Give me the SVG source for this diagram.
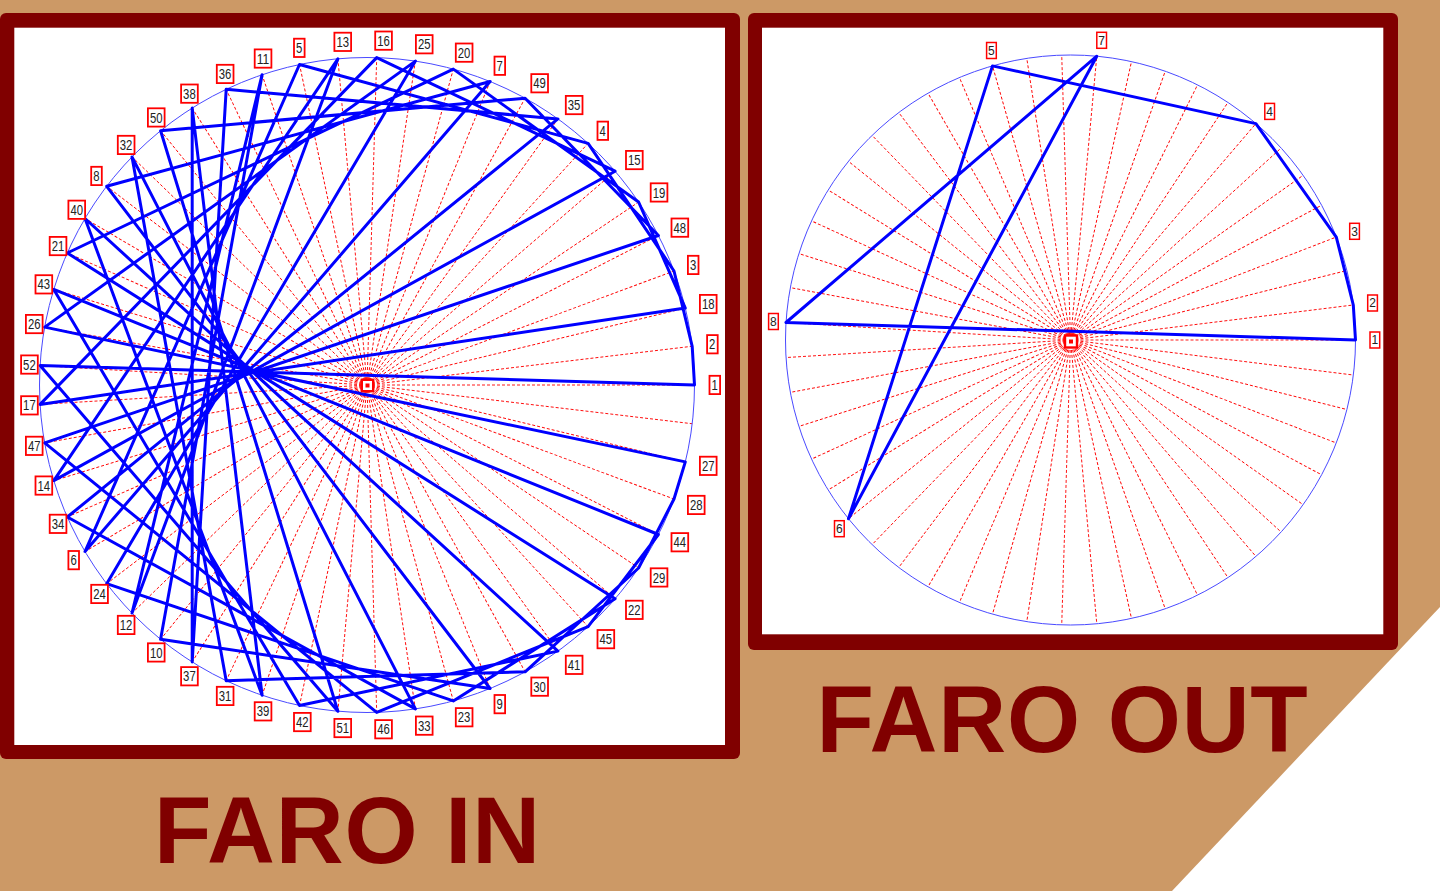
<svg xmlns="http://www.w3.org/2000/svg" width="1440" height="891" viewBox="0 0 1440 891">
<style>
.ray line{stroke:#ff0000;stroke-width:0.9;stroke-dasharray:3 2;fill:none}
.circ{fill:none;stroke:#4a4aff;stroke-width:1}
.chord{fill:none;stroke:#0000ff;stroke-width:3;stroke-linejoin:round}
.bx{fill:#ffffff;stroke:#ff0000;stroke-width:1.8}
.bxs{fill:#ffffff;stroke:#ff0000;stroke-width:1.5}
.lt{font-family:"Liberation Sans",Arial,sans-serif;font-size:14px;fill:#222}
.st{font-family:"Liberation Sans",Arial,sans-serif;font-size:12px;fill:#222}
.title{font-family:"Liberation Sans",Arial,sans-serif;font-weight:bold;font-size:94px;letter-spacing:0.8px;fill:#800000}
.frame{fill:#800000}
.inner{fill:#ffffff}
</style>
<rect width="1440" height="891" fill="#cc9966"/>
<polygon points="1440,607 1440,891 1172,891" fill="#ffffff"/>
<g id="panel-in">
<rect class="frame" x="0" y="13" width="740" height="746" rx="6"/>
<rect class="inner" x="14.3" y="27.7" width="710.7" height="717.3"/>
</g>
<g id="panel-out">
<rect class="frame" x="748" y="13" width="650" height="637" rx="6"/>
<rect class="inner" x="762" y="27.7" width="621.3" height="606.6"/>
</g>
<g id="rays-in" class="ray" transform="translate(367 385)">
<line x2="327.5" transform="rotate(0)"/><line x2="327.5" transform="rotate(6.792)"/><line x2="327.5" transform="rotate(13.585)"/><line x2="327.5" transform="rotate(20.377)"/><line x2="327.5" transform="rotate(27.170)"/><line x2="327.5" transform="rotate(33.962)"/><line x2="327.5" transform="rotate(40.755)"/><line x2="327.5" transform="rotate(47.547)"/><line x2="327.5" transform="rotate(54.340)"/><line x2="327.5" transform="rotate(61.132)"/><line x2="327.5" transform="rotate(67.925)"/><line x2="327.5" transform="rotate(74.717)"/><line x2="327.5" transform="rotate(81.509)"/><line x2="327.5" transform="rotate(88.302)"/><line x2="327.5" transform="rotate(95.094)"/><line x2="327.5" transform="rotate(101.887)"/><line x2="327.5" transform="rotate(108.679)"/><line x2="327.5" transform="rotate(115.472)"/><line x2="327.5" transform="rotate(122.264)"/><line x2="327.5" transform="rotate(129.057)"/><line x2="327.5" transform="rotate(135.849)"/><line x2="327.5" transform="rotate(142.642)"/><line x2="327.5" transform="rotate(149.434)"/><line x2="327.5" transform="rotate(156.226)"/><line x2="327.5" transform="rotate(163.019)"/><line x2="327.5" transform="rotate(169.811)"/><line x2="327.5" transform="rotate(176.604)"/><line x2="327.5" transform="rotate(183.396)"/><line x2="327.5" transform="rotate(190.189)"/><line x2="327.5" transform="rotate(196.981)"/><line x2="327.5" transform="rotate(203.774)"/><line x2="327.5" transform="rotate(210.566)"/><line x2="327.5" transform="rotate(217.358)"/><line x2="327.5" transform="rotate(224.151)"/><line x2="327.5" transform="rotate(230.943)"/><line x2="327.5" transform="rotate(237.736)"/><line x2="327.5" transform="rotate(244.528)"/><line x2="327.5" transform="rotate(251.321)"/><line x2="327.5" transform="rotate(258.113)"/><line x2="327.5" transform="rotate(264.906)"/><line x2="327.5" transform="rotate(271.698)"/><line x2="327.5" transform="rotate(278.491)"/><line x2="327.5" transform="rotate(285.283)"/><line x2="327.5" transform="rotate(292.075)"/><line x2="327.5" transform="rotate(298.868)"/><line x2="327.5" transform="rotate(305.660)"/><line x2="327.5" transform="rotate(312.453)"/><line x2="327.5" transform="rotate(319.245)"/><line x2="327.5" transform="rotate(326.038)"/><line x2="327.5" transform="rotate(332.830)"/><line x2="327.5" transform="rotate(339.623)"/><line x2="327.5" transform="rotate(346.415)"/><line x2="327.5" transform="rotate(353.208)"/>
</g>
<g id="rays-out" class="ray" transform="translate(1070.5 340)">
<line x2="285" transform="rotate(0)"/><line x2="285" transform="rotate(7.059)"/><line x2="285" transform="rotate(14.118)"/><line x2="285" transform="rotate(21.176)"/><line x2="285" transform="rotate(28.235)"/><line x2="285" transform="rotate(35.294)"/><line x2="285" transform="rotate(42.353)"/><line x2="285" transform="rotate(49.412)"/><line x2="285" transform="rotate(56.471)"/><line x2="285" transform="rotate(63.529)"/><line x2="285" transform="rotate(70.588)"/><line x2="285" transform="rotate(77.647)"/><line x2="285" transform="rotate(84.706)"/><line x2="285" transform="rotate(91.765)"/><line x2="285" transform="rotate(98.824)"/><line x2="285" transform="rotate(105.882)"/><line x2="285" transform="rotate(112.941)"/><line x2="285" transform="rotate(120)"/><line x2="285" transform="rotate(127.059)"/><line x2="285" transform="rotate(134.118)"/><line x2="285" transform="rotate(141.176)"/><line x2="285" transform="rotate(148.235)"/><line x2="285" transform="rotate(155.294)"/><line x2="285" transform="rotate(162.353)"/><line x2="285" transform="rotate(169.412)"/><line x2="285" transform="rotate(176.471)"/><line x2="285" transform="rotate(183.529)"/><line x2="285" transform="rotate(190.588)"/><line x2="285" transform="rotate(197.647)"/><line x2="285" transform="rotate(204.706)"/><line x2="285" transform="rotate(211.765)"/><line x2="285" transform="rotate(218.824)"/><line x2="285" transform="rotate(225.882)"/><line x2="285" transform="rotate(232.941)"/><line x2="285" transform="rotate(240)"/><line x2="285" transform="rotate(247.059)"/><line x2="285" transform="rotate(254.118)"/><line x2="285" transform="rotate(261.176)"/><line x2="285" transform="rotate(268.235)"/><line x2="285" transform="rotate(275.294)"/><line x2="285" transform="rotate(282.353)"/><line x2="285" transform="rotate(289.412)"/><line x2="285" transform="rotate(296.471)"/><line x2="285" transform="rotate(303.529)"/><line x2="285" transform="rotate(310.588)"/><line x2="285" transform="rotate(317.647)"/><line x2="285" transform="rotate(324.706)"/><line x2="285" transform="rotate(331.765)"/><line x2="285" transform="rotate(338.824)"/><line x2="285" transform="rotate(345.882)"/><line x2="285" transform="rotate(352.941)"/>
</g>
<circle class="circ" cx="367" cy="385" r="327.5"/>
<circle class="circ" cx="1070.5" cy="340" r="285"/>
<g id="connectors">
<polygon class="chord" points="694.5,385 692.2,346.3 674.0,271.0 588.1,143.4 299.5,64.5 85.0,551.5 490.1,81.5 106.7,186.3 490.1,688.5 160.6,639.3 262.1,74.7 132.0,613.1 337.9,58.8 53.8,480.6 615.1,171.2 376.7,57.6 40.1,404.4 685.3,308.1 638.6,202.0 453.3,69.1 67.3,253.0 615.1,598.8 453.3,700.9 106.7,583.7 415.4,61.1 44.7,327.1 685.3,461.9 674.0,499.0 638.6,568.0 525.1,671.8 226.2,680.7 132.0,156.9 415.4,708.9 67.3,517.0 557.9,118.9 226.2,89.3 192.2,661.9 192.2,108.1 262.1,695.3 85.0,218.5 557.9,651.1 299.5,705.5 53.8,289.4 658.4,534.5 588.1,626.6 376.7,712.4 44.7,442.9 658.4,235.5 525.1,98.2 160.6,130.7 337.9,711.2 40.1,365.6"/>
<polygon class="chord" points="1355.5,340 1353.3,305.0 1336.3,237.1 1255.9,123.6 992.5,65.9 848.5,518.7 1096.8,56.2 786.0,322.5"/>
</g>
<g id="center-in">
<rect x="361.8" y="379.8" width="11.4" height="11.4" fill="#ffffff" stroke="#ff0000" stroke-width="2.4"/>
<rect x="365.5" y="383.5" width="4" height="4" fill="#ff0000"/>
</g>
<g id="center-out">
<rect x="1065" y="335.5" width="12" height="12" fill="#ffffff" stroke="#ff0000" stroke-width="2.4"/>
<rect x="1069" y="339.5" width="4" height="4" fill="#ff0000"/>
</g>
<g id="labels-in">
<g id="in1" transform="translate(711.5 385)"><rect class="bx" x="-2" y="-9.2" width="10.6" height="18.3"/><text class="lt" y="5" textLength="6.3" lengthAdjust="spacingAndGlyphs">1</text></g>
<g id="in2" transform="translate(709.1 344.3)"><rect class="bx" x="-2" y="-9.2" width="10.6" height="18.3"/><text class="lt" y="5" textLength="6.3" lengthAdjust="spacingAndGlyphs">2</text></g>
<g id="in3" transform="translate(689.9 265)"><rect class="bx" x="-2" y="-9.2" width="10.6" height="18.3"/><text class="lt" y="5" textLength="6.3" lengthAdjust="spacingAndGlyphs">3</text></g>
<g id="in4" transform="translate(599.5 130.8)"><rect class="bx" x="-2" y="-9.2" width="10.6" height="18.3"/><text class="lt" y="5" textLength="6.3" lengthAdjust="spacingAndGlyphs">4</text></g>
<g id="in5" transform="translate(296 47.9)"><rect class="bx" x="-2" y="-9.2" width="10.6" height="18.3"/><text class="lt" y="5" textLength="6.3" lengthAdjust="spacingAndGlyphs">5</text></g>
<g id="in6" transform="translate(70.4 560.2)"><rect class="bx" x="-2" y="-9.2" width="10.6" height="18.3"/><text class="lt" y="5" textLength="6.3" lengthAdjust="spacingAndGlyphs">6</text></g>
<g id="in7" transform="translate(496.5 65.8)"><rect class="bx" x="-2" y="-9.2" width="10.6" height="18.3"/><text class="lt" y="5" textLength="6.3" lengthAdjust="spacingAndGlyphs">7</text></g>
<g id="in8" transform="translate(93.2 176)"><rect class="bx" x="-2" y="-9.2" width="10.6" height="18.3"/><text class="lt" y="5" textLength="6.3" lengthAdjust="spacingAndGlyphs">8</text></g>
<g id="in9" transform="translate(496.5 704.2)"><rect class="bx" x="-2" y="-9.2" width="10.6" height="18.3"/><text class="lt" y="5" textLength="6.3" lengthAdjust="spacingAndGlyphs">9</text></g>
<g id="in10" transform="translate(149.9 652.5)"><rect class="bx" x="-2" y="-9.2" width="16.7" height="18.3"/><text class="lt" y="5" textLength="12.6" lengthAdjust="spacingAndGlyphs">10</text></g>
<g id="in11" transform="translate(256.7 58.6)"><rect class="bx" x="-2" y="-9.2" width="16.7" height="18.3"/><text class="lt" y="5" textLength="12.6" lengthAdjust="spacingAndGlyphs">11</text></g>
<g id="in12" transform="translate(119.8 625)"><rect class="bx" x="-2" y="-9.2" width="16.7" height="18.3"/><text class="lt" y="5" textLength="12.6" lengthAdjust="spacingAndGlyphs">12</text></g>
<g id="in13" transform="translate(336.4 41.9)"><rect class="bx" x="-2" y="-9.2" width="16.7" height="18.3"/><text class="lt" y="5" textLength="12.6" lengthAdjust="spacingAndGlyphs">13</text></g>
<g id="in14" transform="translate(37.5 485.6)"><rect class="bx" x="-2" y="-9.2" width="16.7" height="18.3"/><text class="lt" y="5" textLength="12.6" lengthAdjust="spacingAndGlyphs">14</text></g>
<g id="in15" transform="translate(628 160.1)"><rect class="bx" x="-2" y="-9.2" width="16.7" height="18.3"/><text class="lt" y="5" textLength="12.6" lengthAdjust="spacingAndGlyphs">15</text></g>
<g id="in16" transform="translate(377.2 40.7)"><rect class="bx" x="-2" y="-9.2" width="16.7" height="18.3"/><text class="lt" y="5" textLength="12.6" lengthAdjust="spacingAndGlyphs">16</text></g>
<g id="in17" transform="translate(23.1 405.4)"><rect class="bx" x="-2" y="-9.2" width="16.7" height="18.3"/><text class="lt" y="5" textLength="12.6" lengthAdjust="spacingAndGlyphs">17</text></g>
<g id="in18" transform="translate(701.9 304.1)"><rect class="bx" x="-2" y="-9.2" width="16.7" height="18.3"/><text class="lt" y="5" textLength="12.6" lengthAdjust="spacingAndGlyphs">18</text></g>
<g id="in19" transform="translate(652.7 192.5)"><rect class="bx" x="-2" y="-9.2" width="16.7" height="18.3"/><text class="lt" y="5" textLength="12.6" lengthAdjust="spacingAndGlyphs">19</text></g>
<g id="in20" transform="translate(457.8 52.7)"><rect class="bx" x="-2" y="-9.2" width="16.7" height="18.3"/><text class="lt" y="5" textLength="12.6" lengthAdjust="spacingAndGlyphs">20</text></g>
<g id="in21" transform="translate(51.7 246.1)"><rect class="bx" x="-2" y="-9.2" width="16.7" height="18.3"/><text class="lt" y="5" textLength="12.6" lengthAdjust="spacingAndGlyphs">21</text></g>
<g id="in22" transform="translate(628 609.9)"><rect class="bx" x="-2" y="-9.2" width="16.7" height="18.3"/><text class="lt" y="5" textLength="12.6" lengthAdjust="spacingAndGlyphs">22</text></g>
<g id="in23" transform="translate(457.8 717.3)"><rect class="bx" x="-2" y="-9.2" width="16.7" height="18.3"/><text class="lt" y="5" textLength="12.6" lengthAdjust="spacingAndGlyphs">23</text></g>
<g id="in24" transform="translate(93.2 594)"><rect class="bx" x="-2" y="-9.2" width="16.7" height="18.3"/><text class="lt" y="5" textLength="12.6" lengthAdjust="spacingAndGlyphs">24</text></g>
<g id="in25" transform="translate(417.9 44.3)"><rect class="bx" x="-2" y="-9.2" width="16.7" height="18.3"/><text class="lt" y="5" textLength="12.6" lengthAdjust="spacingAndGlyphs">25</text></g>
<g id="in26" transform="translate(27.9 324.1)"><rect class="bx" x="-2" y="-9.2" width="16.7" height="18.3"/><text class="lt" y="5" textLength="12.6" lengthAdjust="spacingAndGlyphs">26</text></g>
<g id="in27" transform="translate(701.9 465.9)"><rect class="bx" x="-2" y="-9.2" width="16.7" height="18.3"/><text class="lt" y="5" textLength="12.6" lengthAdjust="spacingAndGlyphs">27</text></g>
<g id="in28" transform="translate(689.9 505)"><rect class="bx" x="-2" y="-9.2" width="16.7" height="18.3"/><text class="lt" y="5" textLength="12.6" lengthAdjust="spacingAndGlyphs">28</text></g>
<g id="in29" transform="translate(652.7 577.5)"><rect class="bx" x="-2" y="-9.2" width="16.7" height="18.3"/><text class="lt" y="5" textLength="12.6" lengthAdjust="spacingAndGlyphs">29</text></g>
<g id="in30" transform="translate(533.3 686.7)"><rect class="bx" x="-2" y="-9.2" width="16.7" height="18.3"/><text class="lt" y="5" textLength="12.6" lengthAdjust="spacingAndGlyphs">30</text></g>
<g id="in31" transform="translate(218.8 696)"><rect class="bx" x="-2" y="-9.2" width="16.7" height="18.3"/><text class="lt" y="5" textLength="12.6" lengthAdjust="spacingAndGlyphs">31</text></g>
<g id="in32" transform="translate(119.8 145)"><rect class="bx" x="-2" y="-9.2" width="16.7" height="18.3"/><text class="lt" y="5" textLength="12.6" lengthAdjust="spacingAndGlyphs">32</text></g>
<g id="in33" transform="translate(417.9 725.7)"><rect class="bx" x="-2" y="-9.2" width="16.7" height="18.3"/><text class="lt" y="5" textLength="12.6" lengthAdjust="spacingAndGlyphs">33</text></g>
<g id="in34" transform="translate(51.7 523.9)"><rect class="bx" x="-2" y="-9.2" width="16.7" height="18.3"/><text class="lt" y="5" textLength="12.6" lengthAdjust="spacingAndGlyphs">34</text></g>
<g id="in35" transform="translate(567.8 105.1)"><rect class="bx" x="-2" y="-9.2" width="16.7" height="18.3"/><text class="lt" y="5" textLength="12.6" lengthAdjust="spacingAndGlyphs">35</text></g>
<g id="in36" transform="translate(218.8 74)"><rect class="bx" x="-2" y="-9.2" width="16.7" height="18.3"/><text class="lt" y="5" textLength="12.6" lengthAdjust="spacingAndGlyphs">36</text></g>
<g id="in37" transform="translate(183.1 676.3)"><rect class="bx" x="-2" y="-9.2" width="16.7" height="18.3"/><text class="lt" y="5" textLength="12.6" lengthAdjust="spacingAndGlyphs">37</text></g>
<g id="in38" transform="translate(183.1 93.7)"><rect class="bx" x="-2" y="-9.2" width="16.7" height="18.3"/><text class="lt" y="5" textLength="12.6" lengthAdjust="spacingAndGlyphs">38</text></g>
<g id="in39" transform="translate(256.7 711.4)"><rect class="bx" x="-2" y="-9.2" width="16.7" height="18.3"/><text class="lt" y="5" textLength="12.6" lengthAdjust="spacingAndGlyphs">39</text></g>
<g id="in40" transform="translate(70.4 209.8)"><rect class="bx" x="-2" y="-9.2" width="16.7" height="18.3"/><text class="lt" y="5" textLength="12.6" lengthAdjust="spacingAndGlyphs">40</text></g>
<g id="in41" transform="translate(567.8 664.9)"><rect class="bx" x="-2" y="-9.2" width="16.7" height="18.3"/><text class="lt" y="5" textLength="12.6" lengthAdjust="spacingAndGlyphs">41</text></g>
<g id="in42" transform="translate(296 722.1)"><rect class="bx" x="-2" y="-9.2" width="16.7" height="18.3"/><text class="lt" y="5" textLength="12.6" lengthAdjust="spacingAndGlyphs">42</text></g>
<g id="in43" transform="translate(37.5 284.4)"><rect class="bx" x="-2" y="-9.2" width="16.7" height="18.3"/><text class="lt" y="5" textLength="12.6" lengthAdjust="spacingAndGlyphs">43</text></g>
<g id="in44" transform="translate(673.5 542.3)"><rect class="bx" x="-2" y="-9.2" width="16.7" height="18.3"/><text class="lt" y="5" textLength="12.6" lengthAdjust="spacingAndGlyphs">44</text></g>
<g id="in45" transform="translate(599.5 639.2)"><rect class="bx" x="-2" y="-9.2" width="16.7" height="18.3"/><text class="lt" y="5" textLength="12.6" lengthAdjust="spacingAndGlyphs">45</text></g>
<g id="in46" transform="translate(377.2 729.3)"><rect class="bx" x="-2" y="-9.2" width="16.7" height="18.3"/><text class="lt" y="5" textLength="12.6" lengthAdjust="spacingAndGlyphs">46</text></g>
<g id="in47" transform="translate(27.9 445.9)"><rect class="bx" x="-2" y="-9.2" width="16.7" height="18.3"/><text class="lt" y="5" textLength="12.6" lengthAdjust="spacingAndGlyphs">47</text></g>
<g id="in48" transform="translate(673.5 227.7)"><rect class="bx" x="-2" y="-9.2" width="16.7" height="18.3"/><text class="lt" y="5" textLength="12.6" lengthAdjust="spacingAndGlyphs">48</text></g>
<g id="in49" transform="translate(533.3 83.3)"><rect class="bx" x="-2" y="-9.2" width="16.7" height="18.3"/><text class="lt" y="5" textLength="12.6" lengthAdjust="spacingAndGlyphs">49</text></g>
<g id="in50" transform="translate(149.9 117.5)"><rect class="bx" x="-2" y="-9.2" width="16.7" height="18.3"/><text class="lt" y="5" textLength="12.6" lengthAdjust="spacingAndGlyphs">50</text></g>
<g id="in51" transform="translate(336.4 728.1)"><rect class="bx" x="-2" y="-9.2" width="16.7" height="18.3"/><text class="lt" y="5" textLength="12.6" lengthAdjust="spacingAndGlyphs">51</text></g>
<g id="in52" transform="translate(23.1 364.6)"><rect class="bx" x="-2" y="-9.2" width="16.7" height="18.3"/><text class="lt" y="5" textLength="12.6" lengthAdjust="spacingAndGlyphs">52</text></g>
</g>
<g id="labels-out">
<g id="out1" transform="translate(1371.5 340)"><rect class="bxs" x="-1.5" y="-8" width="9.7" height="16"/><text class="st" y="4.3">1</text></g>
<g id="out2" transform="translate(1369.2 303)"><rect class="bxs" x="-1.5" y="-8" width="9.7" height="16"/><text class="st" y="4.3">2</text></g>
<g id="out3" transform="translate(1351.2 231.3)"><rect class="bxs" x="-1.5" y="-8" width="9.7" height="16"/><text class="st" y="4.3">3</text></g>
<g id="out4" transform="translate(1266.3 111.4)"><rect class="bxs" x="-1.5" y="-8" width="9.7" height="16"/><text class="st" y="4.3">4</text></g>
<g id="out5" transform="translate(988.1 50.5)"><rect class="bxs" x="-1.5" y="-8" width="9.7" height="16"/><text class="st" y="4.3">5</text></g>
<g id="out6" transform="translate(836 528.7)"><rect class="bxs" x="-1.5" y="-8" width="9.7" height="16"/><text class="st" y="4.3">6</text></g>
<g id="out7" transform="translate(1098.3 40.3)"><rect class="bxs" x="-1.5" y="-8" width="9.7" height="16"/><text class="st" y="4.3">7</text></g>
<g id="out8" transform="translate(770.1 321.5)"><rect class="bxs" x="-1.5" y="-8" width="9.7" height="16"/><text class="st" y="4.3">8</text></g>
</g>
<text class="title" x="816.5" y="752">FARO OUT</text>
<text class="title" x="154" y="863">FARO IN</text>
</svg>
